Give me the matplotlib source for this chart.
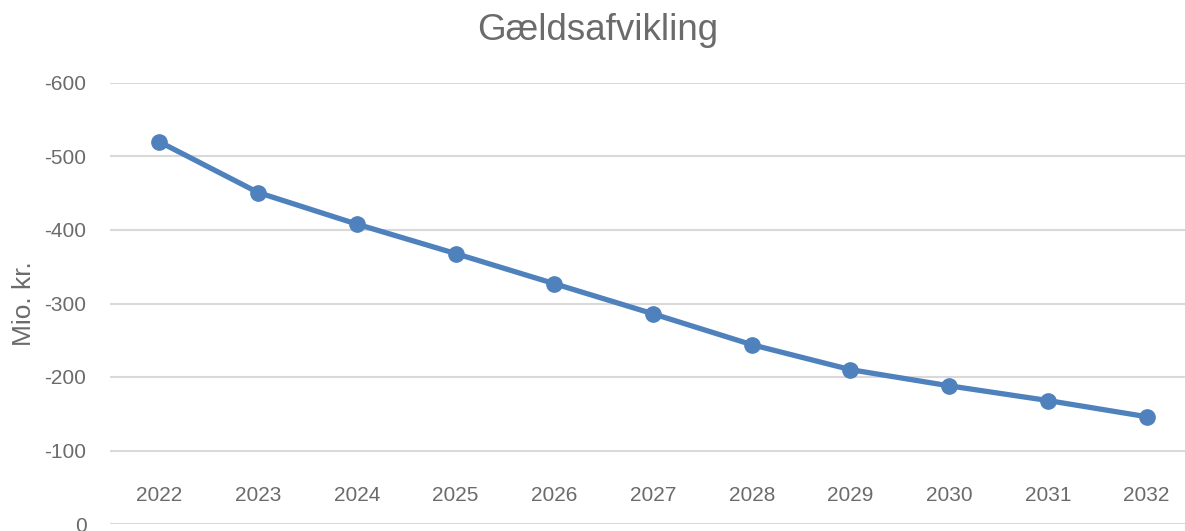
import matplotlib
matplotlib.use("Agg")
from matplotlib import pyplot as plt

years = ['2022', '2023', '2024', '2025', '2026', '2027',
         '2028', '2029', '2030', '2031', '2032']
debt = [-520, -451, -408, -368, -327, -286, -244, -210, -188, -168, -146]
yticks = [0, -100, -200, -300, -400, -500, -600]

plt.rcParams.update({
    "font.family": ['Liberation Sans', 'DejaVu Sans'],
    "axes.unicode_minus": False,
})
text_color = '#6b6b6b'
line_color = '#4f81bd'

W, H = 1185, 531
fig = plt.figure(figsize=(W / 100, H / 100), dpi=100)
# plot area in pixels (Excel-like), right edge runs past the figure
left, right, top, bottom = 110, 1196, 83, 524
ax = fig.add_axes([left / W, (H - bottom) / H, (right - left) / W, (bottom - top) / H])

x = list(range(len(years)))
ax.plot(x, debt, color=line_color, lw=3.8, marker='o', markersize=11,
        solid_capstyle='round', zorder=3)

ax.set_xlim(-0.5, len(years) - 0.5)
ax.set_ylim(0, -600)
ax.set_yticks(yticks)
ax.set_yticklabels([str(v) for v in yticks])
ax.yaxis.grid(True, color='#d9d9d9', lw=1.5)
ax.set_axisbelow(True)

ax.set_xticks(x)
ax.set_xticklabels(years)
ax.tick_params(axis='x', length=0, pad=-13.5, labelsize=15, labelcolor=text_color)
ax.tick_params(axis='y', length=0, pad=17, labelsize=15, labelcolor=text_color)
for lab in ax.get_xticklabels():
    lab.set_verticalalignment('bottom')

for s in ax.spines.values():
    s.set_visible(False)

ax.set_ylabel('Mio. kr.', fontsize=19, color=text_color, labelpad=6)
fig.text(598 / W, 1 - 31 / H, 'Gældsafvikling', fontsize=26.5, color=text_color,
         ha='center', va='center')

fig.savefig('out.png', dpi=100)
